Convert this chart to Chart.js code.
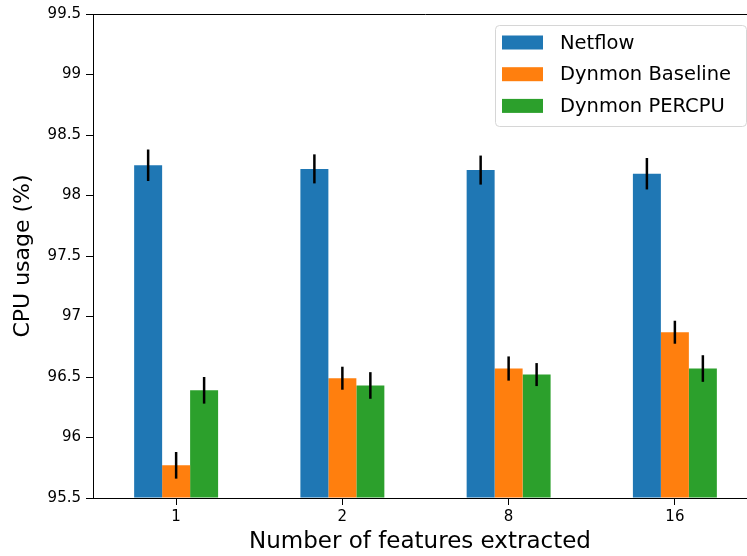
<!DOCTYPE html>
<html>
<head>
<meta charset="utf-8">
<script src="https://cdn.jsdelivr.net/npm/chart.js@4.4.0/dist/chart.umd.min.js"></script>
<style>
  html, body { margin: 0; padding: 0; background: #fff; overflow: hidden; }
  #wrap { width: 747px; height: 556px; overflow: hidden; }
</style>
</head>
<body>
<div id="wrap"><canvas id="myChart" width="760" height="556"></canvas></div>
<script>
// valores
const categorias = ["1", "2", "8", "16"];
const series = ["Netflow", "Dynmon Baseline", "Dynmon PERCPU"];
const netflow = [98.25, 98.22, 98.21, 98.18];
const netflowErr = [0.13, 0.12, 0.12, 0.13];
const baseline = [95.77, 96.49, 96.57, 96.87];
const baselineErr = [0.11, 0.095, 0.10, 0.095];
const percpu = [96.39, 96.43, 96.52, 96.57];
const percpuErr = [0.11, 0.11, 0.095, 0.11];
const yTicks = [95.5, 96, 96.5, 97, 97.5, 98, 98.5, 99, 99.5];
const tituloX = "Number of features extracted";
const tituloY = "CPU usage (%)";

const colores = ["#1f77b4", "#ff7f0e", "#2ca02c"];
const font = "'DejaVu Sans', sans-serif";

// barras de error, sin tapas
const errorBars = {
  id: "errorBars",
  afterDatasetsDraw(chart) {
    const ctx = chart.ctx;
    const y = chart.scales.y;
    ctx.save();
    ctx.strokeStyle = "#000";
    ctx.lineWidth = 2.5;
    chart.data.datasets.forEach((ds, i) => {
      const meta = chart.getDatasetMeta(i);
      meta.data.forEach((bar, j) => {
        const v = ds.data[j];
        const e = ds.errores[j];
        ctx.beginPath();
        ctx.moveTo(bar.x, y.getPixelForValue(v + e));
        ctx.lineTo(bar.x, y.getPixelForValue(v - e));
        ctx.stroke();
      });
    });
    ctx.restore();
  }
};

// borde superior, titulo X y leyenda dentro del area
const marcoLeyenda = {
  id: "marcoLeyenda",
  afterDraw(chart) {
    const ctx = chart.ctx;
    const a = chart.chartArea;
    ctx.save();
    ctx.strokeStyle = "#000";
    ctx.lineWidth = 1;
    ctx.beginPath();
    ctx.moveTo(a.left, a.top + 0.5);
    ctx.lineTo(a.right, a.top + 0.5);
    ctx.stroke();

    // el eje original termina en el borde de la figura (747)
    ctx.font = "23px " + font;
    ctx.fillStyle = "#000";
    ctx.textAlign = "center";
    ctx.textBaseline = "middle";
    ctx.fillText(tituloX, (a.left + 747) / 2, 542);

    const bx = 495.5, by = 25.5, bw = 251, bh = 101, r = 4;
    ctx.fillStyle = "rgba(255,255,255,0.8)";
    ctx.strokeStyle = "#d6d6d6";
    ctx.beginPath();
    ctx.roundRect(bx, by, bw, bh, r);
    ctx.fill();
    ctx.stroke();

    ctx.font = "19.5px " + font;
    ctx.textAlign = "left";
    chart.data.datasets.forEach((ds, i) => {
      const cy = 42.5 + i * 31.7;
      ctx.fillStyle = ds.backgroundColor;
      ctx.fillRect(502, cy - 7, 41, 14);
      ctx.fillStyle = "#000";
      ctx.fillText(ds.label, 560, cy + 1);
    });
    ctx.restore();
  }
};

new Chart(document.getElementById("myChart"), {
  type: "bar",
  data: {
    labels: categorias,
    datasets: [
      { label: series[0], data: netflow, errores: netflowErr, backgroundColor: colores[0] },
      { label: series[1], data: baseline, errores: baselineErr, backgroundColor: colores[1] },
      { label: series[2], data: percpu, errores: percpuErr, backgroundColor: colores[2] }
    ]
  },
  options: {
    responsive: false,
    animation: false,
    layout: { padding: { top: 14, right: 2, left: 0, bottom: 0 } },
    datasets: { bar: { categoryPercentage: 0.505, barPercentage: 1.0, base: 95.5 } },
    plugins: { legend: { display: false }, tooltip: { enabled: false } },
    scales: {
      x: {
        grid: { display: true, drawOnChartArea: false, tickLength: 7, color: "#000", offset: false },
        border: { color: "#000", width: 1 },
        ticks: { font: { family: font, size: 15 }, color: "#000", padding: 3 },
        title: { display: false },
        afterFit(scale) { scale.height = 58; }
      },
      y: {
        min: 95.5,
        max: 99.5,
        afterBuildTicks(scale) { scale.ticks = yTicks.map(v => ({ value: v })); },
        grid: { display: true, drawOnChartArea: false, tickLength: 7, color: "#000" },
        border: { color: "#000", width: 1 },
        ticks: {
          font: { family: font, size: 15 }, color: "#000", padding: 5,
          callback: v => String(v)
        },
        title: { display: true, text: tituloY, font: { family: font, size: 22 }, color: "#000", padding: { top: 10, bottom: 0 } },
        afterFit(scale) { scale.width = 93; }
      }
    }
  },
  plugins: [errorBars, marcoLeyenda]
});
</script>
</body>
</html>
